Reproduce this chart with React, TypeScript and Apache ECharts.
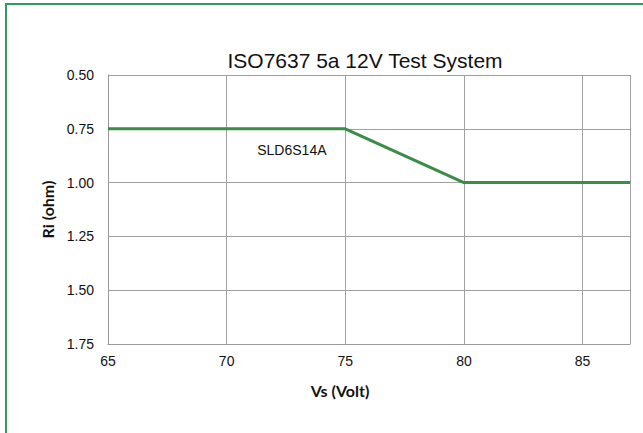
import React, { useEffect, useRef } from "react";
import * as echarts from "echarts";

const xValues = [65, 75, 80, 87];
const yValues = [0.75, 0.75, 1.0, 1.0];
const seriesName = "SLD6S14A";
const labelPos = [72.75, 0.848];
const titleText = "ISO7637 5a 12V Test System";

export default function App() {
  const ref = useRef<HTMLDivElement>(null);
  useEffect(() => {
    if (!ref.current) return;
    const chart = echarts.init(ref.current, undefined, { renderer: "svg" });
    chart.setOption({
      animation: false,
      backgroundColor: "#ffffff",
      title: {
        text: titleText,
        left: 360,
        top: 45,
        textAlign: "center",
        textStyle: {
          fontFamily: "Liberation Sans",
          fontSize: 21,
          fontWeight: "normal",
          color: "#111",
        },
      },
      graphic: [
        {
          type: "rect",
          shape: { x: 6, y: 4, width: 700, height: 500 },
          style: { fill: "none", stroke: "#2e9c62", lineWidth: 2 },
          silent: true,
        },
      ],
      grid: { left: 108, top: 75, right: 13, bottom: 89, containLabel: false },
      xAxis: {
        type: "value",
        min: 65,
        max: 87,
        interval: 5,
        name: "Vs (Volt)",
        nameLocation: "middle",
        nameGap: 38,
        nameTextStyle: {
          fontFamily: "Lato",
          fontWeight: "bold",
          fontSize: 16,
          color: "#111",
          padding: [0, 58, 0, 0],
        },
        axisLine: { show: true, lineStyle: { color: "#999", width: 1 } },
        axisTick: { show: false },
        axisLabel: {
          fontFamily: "Liberation Sans",
          fontSize: 14,
          color: "#111",
          margin: 10,
          showMaxLabel: false,
        },
        splitLine: { show: true, lineStyle: { color: "#a0a0a0", width: 1 } },
      },
      yAxis: {
        type: "value",
        inverse: true,
        min: 0.5,
        max: 1.75,
        interval: 0.25,
        name: "Ri (ohm)",
        nameLocation: "middle",
        nameGap: 50,
        nameRotate: 90,
        nameTextStyle: { fontFamily: "Lato", fontWeight: "bold", fontSize: 16, color: "#111" },
        axisLine: { show: true, lineStyle: { color: "#999", width: 1 } },
        axisTick: { show: false },
        axisLabel: {
          fontFamily: "Liberation Sans",
          fontSize: 14,
          color: "#111",
          margin: 14,
          formatter: (v: number) => v.toFixed(2),
        },
        splitLine: { show: true, lineStyle: { color: "#a0a0a0", width: 1 } },
      },
      series: [
        {
          name: seriesName,
          type: "line",
          data: xValues.map((x, i) => [x, yValues[i]]),
          symbol: "none",
          lineStyle: { color: "#3a8d47", width: 3 },
          markPoint: {
            symbol: "circle",
            symbolSize: 0,
            silent: true,
            data: [
              {
                coord: labelPos,
                label: {
                  show: true,
                  position: "inside",
                  formatter: seriesName,
                  fontFamily: "Liberation Sans",
                  fontSize: 14,
                  color: "#111",
                },
              },
            ],
          },
        },
      ],
    });
    return () => chart.dispose();
  }, []);
  return (
    <div
      ref={ref}
      style={{ position: "absolute", left: 0, top: 0, width: 643, height: 433 }}
    />
  );
}
